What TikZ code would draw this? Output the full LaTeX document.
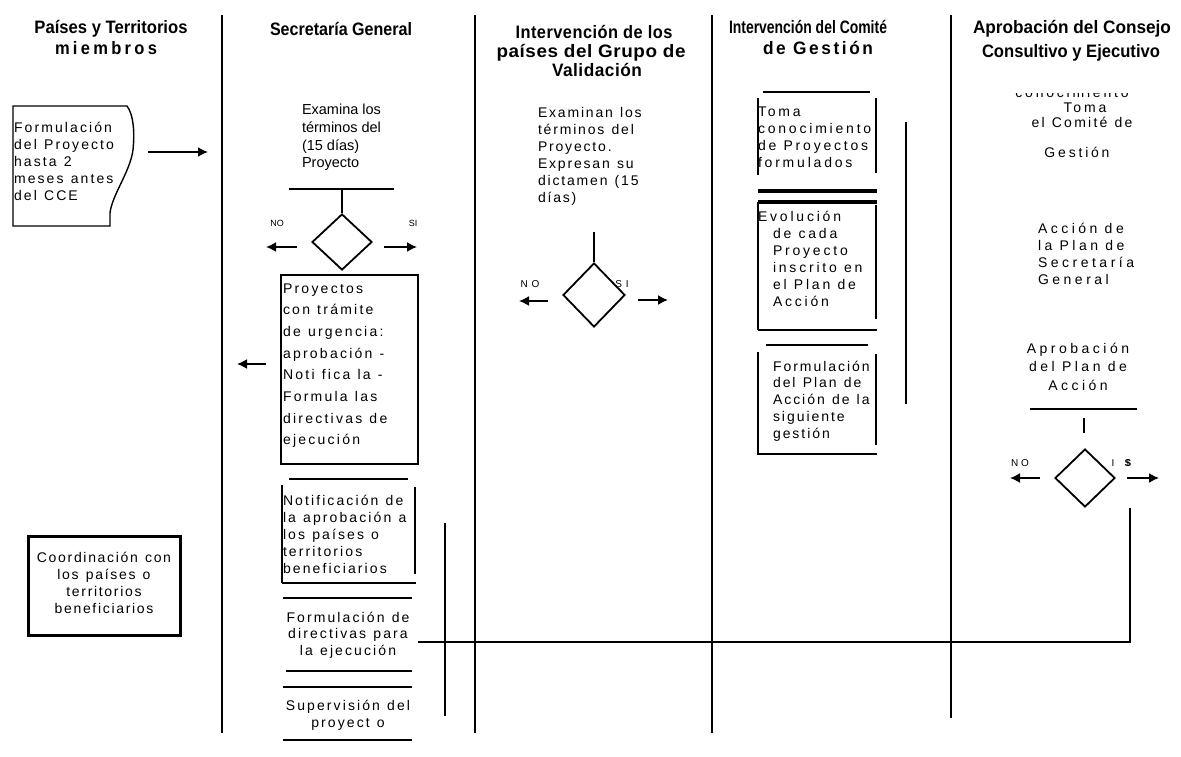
\documentclass[tikz,border=0pt]{standalone}
\usepackage{fontspec}
\usepackage{graphicx}
\setmainfont{Liberation Sans}
\usetikzlibrary{shapes.geometric,arrows.meta}
% align, size, skip, letterspace, text  (spaces widened)
\ExplSyntaxOn
\NewDocumentCommand\blk{mmmmm}{
  \group_begin:
  \addfontfeatures{LetterSpace=#4}\fontsize{#2}{#3}\selectfont
  \tl_set:Nn \l_tmpa_tl {#5}
  \tl_replace_all:Nnn \l_tmpa_tl {~} {\hspace{7.2pt}}
  \begin{tabular}[t]{@{}#1@{}}\tl_use:N \l_tmpa_tl\end{tabular}
  \group_end:
}
\ExplSyntaxOff
\newcommand\blkn[4]{{\fontsize{#2}{#3}\selectfont\begin{tabular}[t]{@{}#1@{}}#4\end{tabular}}}
% width, letterspace, text
\newcommand\hd[3]{\resizebox{#1}{\height}{\addfontfeatures{LetterSpace=#2}\fontsize{18}{20}\selectfont\bfseries #3}}
\begin{document}
\begin{tikzpicture}[x=1pt,y=-1pt,
  lane/.style={line width=1.3pt},
  ln/.style={line width=1.6pt},
  arr/.style={line width=1.6pt,-{Latex[length=10pt,width=10pt]}},
  t/.style={inner sep=0pt,outer sep=0pt,anchor=base west},
  tc/.style={inner sep=0pt,outer sep=0pt,anchor=base},
  dia/.style={diamond,draw,line width=1.8pt,inner sep=0pt}]
\useasboundingbox (0,0) rectangle (1181,757);
% swimlanes
\coordinate (l1t) at (222,15); \coordinate (l1b) at (222,733);
\coordinate (l2t) at (475,15); \coordinate (l2b) at (475,733);
\coordinate (l3t) at (712,15); \coordinate (l3b) at (712,733);
\coordinate (l4t) at (951,15); \coordinate (l4b) at (951,718);
\draw[lane] (l1t)--(l1b) (l2t)--(l2b) (l3t)--(l3b) (l4t)--(l4b);
% headers
\node[tc] (h1a) at (111,34) {\hd{153pt}{0}{Países y Territorios}};
\node[tc] (h1b) at (106,55) {\hd{102pt}{20}{miembros}};
\node[tc] (h2) at (341,36) {\hd{142pt}{0}{Secretaría General}};
\node[tc] (h3a) at (594,39) {\hd{157pt}{3}{Intervención de los}};
\node[tc] (h3b) at (591,58) {\hd{189pt}{3}{países del Grupo de}};
\node[tc] (h3c) at (597,77) {\hd{90pt}{3}{Validación}};
\node[tc] (h4a) at (808,34) {\hd{158pt}{0}{Intervención del Comité}};
\node[tc] (h4b) at (818,55) {\hd{110pt}{15}{de Gestión}};
\node[tc] (h5a) at (1072,34) {\hd{198pt}{0}{Aprobación del Consejo}};
\node[tc] (h5b) at (1071,58) {\hd{178pt}{0}{Consultivo y Ejecutivo}};
% ---- Países column
\draw[line width=1.4pt] (13,106) -- (127,106) .. controls (133,114) and (135,130) .. (133,150)
  .. controls (130,172) and (112,195) .. (110,213) -- (110,226) -- (13,226) -- cycle;
\node[t] (doct) at (14,133) {\blk{l}{14}{16.8}{15}{Formulación\\del Proyecto\\hasta 2\\meses antes\\del CCE}};
\coordinate (a1s) at (148,152); \coordinate (a1e) at (208,152);
\draw[arr] (a1s)--(a1e);
\node[draw,line width=3pt,minimum width=152pt,minimum height=99pt,inner sep=0pt] (coord) at (104,585.5) {};
\node[tc] (coordt) at (104,562) {\blk{c}{14}{17}{12}{Coordinación con\\los países o\\territorios\\beneficiarios}};
% ---- Secretaría column
\node[t] (exam) at (302,115) {\blkn{l}{14.5}{17.6}{Examina los\\términos del\\(15 días)\\Proyecto}};
\coordinate (b1l) at (289,189); \coordinate (b1r) at (394,189); \coordinate (b1c) at (342,189);
\draw[line width=2.2pt] (b1l)--(b1r);
\node[dia,minimum width=60pt,minimum height=56pt] (d1) at (342,242) {};
\draw[ln] (b1c)--(d1.north);
\node[tc,font=\fontsize{9}{10}\selectfont] (no1) at (277,226) {NO};
\node[tc,font=\fontsize{9}{10}\selectfont] (si1) at (413,226) {SI};
\coordinate (n1s) at (297,247); \coordinate (n1e) at (266,247);
\coordinate (s1s) at (384,247); \coordinate (s1e) at (417,247);
\draw[arr] (n1s)--(n1e);
\draw[arr] (s1s)--(s1e);
\node[draw,line width=1.2pt,minimum width=137pt,minimum height=189pt,inner sep=0pt] (urg) at (349.5,369.5) {};
\node[t] (urgt) at (283,293) {\blk{l}{14}{21.7}{16}{Proyectos\\con trámite\\de urgencia:\\aprobación -\\Noti fica la -\\Formula las\\directivas de\\ejecución}};
\coordinate (u1s) at (266,364); \coordinate (u1e) at (237,364);
\draw[arr] (u1s)--(u1e);
% notificación
\coordinate (nt1) at (289,479); \coordinate (nt2) at (408,479);
\draw[line width=2pt] (nt1)--(nt2);
\coordinate (nl1) at (282,485); \coordinate (nl2) at (282,583); \coordinate (nl3) at (416,583);
\draw[line width=2pt] (nl1)--(nl2);
\draw[line width=2.8pt] (nl2)--(nl3);
\coordinate (nr1) at (415,487); \coordinate (nr2) at (415,574);
\draw[line width=1.5pt] (nr1)--(nr2);
\node[t] (notit) at (283,505) {\blk{l}{14}{17}{15}{Notificación de\\la aprobación a\\los países o\\territorios\\beneficiarios}};
\coordinate (f1a) at (283,598); \coordinate (f1b) at (412,598);
\draw[line width=2pt] (f1a)--(f1b);
\node[tc] (dirt) at (348,622) {\blk{c}{14}{16.7}{15}{Formulación de\\directivas para\\la ejecución}};
\coordinate (f2a) at (286,671); \coordinate (f2b) at (412,671);
\coordinate (f3a) at (283,687); \coordinate (f3b) at (412,687);
\draw[line width=2pt] (f2a)--(f2b) (f3a)--(f3b);
\node[tc] (supt) at (348,710) {\blk{c}{14}{17}{15}{Supervisión del\\proyect o}};
\coordinate (f4a) at (283,740); \coordinate (f4b) at (412,740);
\draw[line width=2pt] (f4a)--(f4b);
\coordinate (v1a) at (445,523); \coordinate (v1b) at (445,716);
\draw[line width=1.5pt] (v1a)--(v1b);
% ---- Validación column
\node[t] (valt) at (538,118) {\blk{l}{14}{17}{13}{Examinan los\\términos del\\Proyecto.\\Expresan su\\dictamen (15\\días)}};
\coordinate (v2a) at (594,232);
\node[dia,minimum width=62pt,minimum height=64pt] (d2) at (594,295) {};
\draw[ln] (v2a)--(d2.north);
\node[tc] (no2) at (530,287) {\blk{c}{10}{11}{40}{NO}};
\node[tc] (si2) at (622,287) {\blk{c}{10}{11}{40}{SI}};
\coordinate (n2s) at (548,301); \coordinate (n2e) at (519,301);
\coordinate (s2s) at (638,300); \coordinate (s2e) at (668,300);
\draw[arr] (n2s)--(n2e);
\draw[arr] (s2s)--(s2e);
% ---- Comité column
\coordinate (c0a) at (763,92); \coordinate (c0b) at (870,92);
\draw[line width=2pt] (c0a)--(c0b);
\coordinate (c1a) at (758,98); \coordinate (c1b) at (758,175);
\coordinate (c1c) at (876,98); \coordinate (c1d) at (876,173);
\draw[line width=1.5pt] (c1a)--(c1b) (c1c)--(c1d);
\node[t] (tomat) at (758,117) {\blk{l}{14}{16.9}{20}{Toma\\conocimiento\\de Proyectos\\formulados}};
\coordinate (dl1a) at (758,191); \coordinate (dl1b) at (877,191);
\coordinate (dl2a) at (758,202); \coordinate (dl2b) at (877,202);
\draw[line width=4pt] (dl1a)--(dl1b) (dl2a)--(dl2b);
\coordinate (c2a) at (758,202); \coordinate (c2b) at (758,330); \coordinate (c2c) at (877,330);
\coordinate (c2d) at (876,205); \coordinate (c2e) at (876,319);
\draw[line width=2.5pt] (c2a)--(c2b);
\draw[line width=2pt] (c2b)--(c2c);
\draw[line width=1.5pt] (c2d)--(c2e);
\node[t] (evot) at (773,222) {\blk{l}{14}{17}{20}{\hspace*{-15pt}Evolución\\de cada\\Proyecto\\inscrito en\\el Plan de\\Acción}};
\coordinate (c3a) at (766,345); \coordinate (c3b) at (868,345);
\draw[line width=2pt] (c3a)--(c3b);
\coordinate (c4a) at (758,352); \coordinate (c4b) at (758,454); \coordinate (c4c) at (877,454);
\coordinate (c4d) at (876,354); \coordinate (c4e) at (876,445);
\draw[line width=2pt] (c4a)--(c4b)--(c4c);
\draw[line width=1.5pt] (c4d)--(c4e);
\node[t] (plant) at (773,371) {\blk{l}{14}{16.8}{14}{Formulación\\del Plan de\\Acción de la\\siguiente\\gestión}};
\coordinate (v3a) at (906,122); \coordinate (v3b) at (906,404);
\draw[line width=1.5pt] (v3a)--(v3b);
% ---- Consejo column
\begin{scope}
\clip (960,94) rectangle (1180,101);
\node[tc] (conot) at (1072,98) {\blk{c}{14}{17}{20}{conocimiento}};
\end{scope}
\node[tc] (tomat2) at (1085,113) {\blk{c}{14}{17}{20}{Toma}};
\node[tc] (comt) at (1082,128) {\blk{c}{14}{17}{16}{el Comité de}};
\node[tc] (gest) at (1077,158) {\blk{c}{14}{17}{20}{Gestión}};
\node[t] (acct) at (1038,233) {\blk{l}{14}{17.3}{25}{Acción de\\la Plan de\\Secretaría\\General}};
\node[tc] (aprt) at (1078,353) {\blk{c}{14}{18.5}{25}{Aprobación\\del Plan de\\Acción}};
\coordinate (b3l) at (1030,409); \coordinate (b3r) at (1137,409);
\draw[line width=2pt] (b3l)--(b3r);
\coordinate (v4a) at (1084,418); \coordinate (v4b) at (1084,433);
\draw[ln] (v4a)--(v4b);
\node[dia,minimum width=60pt,minimum height=58pt] (d3) at (1085,478) {};
\node[tc] (no3) at (1020,466) {\blk{c}{10}{11}{30}{NO}};
\node[tc] (i3) at (1113,466) {\blkn{c}{10}{11}{I}};
\node[tc] (s3) at (1128,466) {\blkn{c}{10}{11}{\textbf{S}}};
\node[tc] (s3b) at (1128,466) {\blkn{c}{10}{11}{I}};
\coordinate (n3s) at (1040,478); \coordinate (n3e) at (1010,478);
\coordinate (s3s) at (1127,478); \coordinate (s3e) at (1159,478);
\draw[arr] (n3s)--(n3e);
\draw[arr] (s3s)--(s3e);
% long connector
\coordinate (fl1) at (1130,508); \coordinate (fl2) at (1130,642); \coordinate (fl3) at (418,642);
\draw[ln] (fl1)--(fl2)--(fl3);
\end{tikzpicture}
\end{document}
